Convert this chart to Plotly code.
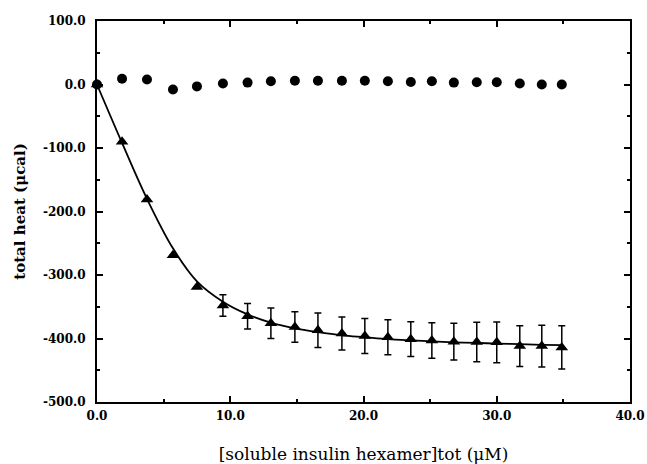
import plotly.graph_objects as go

# concentration of soluble insulin hexamer (µM)
conc = [0, 1.88, 3.75, 5.7, 7.5, 9.45, 11.3, 13.05, 14.85, 16.58, 18.38,
        20.1, 21.83, 23.55, 25.13, 26.78, 28.5, 30.0, 31.73, 33.38, 34.88]
# control series (circles), total heat µcal
heat_control = [0, 9, 8, -8, -3, 1.5, 3, 5, 6, 6, 6,
                6, 5, 4, 5, 3, 3.5, 3.5, 1.5, 0, 0]
# binding series (triangles)
heat_binding = [0, -90, -181, -269, -319, -348, -365, -376, -382, -387, -392,
                -396, -398, -401, -403, -405, -405.5, -406, -412, -412, -414]
heat_err = [0, 0, 0, 0, 0, 17, 20, 24, 24, 27, 26,
            27.5, 27.5, 27.5, 28, 29, 31, 32, 32, 33, 34]
# fitted curve
heat_fit = [0, -92, -180, -258, -310, -342, -362, -375, -384, -390, -395,
            -398, -401, -403, -404.5, -406, -407, -408, -409, -410, -410.5]

x_ticks = [0, 10, 20, 30, 40]
x_ticktext = ["0.0", "10.0", "20.0", "30.0", "40.0"]
y_ticks = [100, 0, -100, -200, -300, -400, -500]
y_ticktext = ["100.0", "0.0", "-100.0", "-200.0", "-300.0", "-400.0", "-500.0"]

fig = go.Figure()
fig.add_trace(go.Scatter(x=conc, y=heat_fit, mode="lines",
                         line=dict(color="black", width=1.8, shape="spline"),
                         hoverinfo="skip"))
fig.add_trace(go.Scatter(x=conc, y=heat_binding, mode="markers",
                         marker=dict(symbol="triangle-up", size=11, color="black"),
                         error_y=dict(type="data", array=heat_err, visible=True,
                                      color="black", thickness=1.5, width=3.5),
                         cliponaxis=False))
fig.add_trace(go.Scatter(x=conc, y=heat_control, mode="markers",
                         marker=dict(symbol="circle", size=10, color="black"),
                         cliponaxis=False))

tickfont = dict(family="DejaVu Serif", size=12, color="black", weight="bold")
axis_common = dict(showgrid=False, zeroline=False, showline=True, linecolor="black",
                   linewidth=2, mirror="ticks", ticks="inside", ticklen=6,
                   tickwidth=1.5, tickcolor="black", tickfont=tickfont,
                   automargin=False)

fig.update_xaxes(range=[0, 40], tickmode="array", tickvals=x_ticks, ticktext=x_ticktext,
                 minor=dict(tickmode="linear", tick0=0, dtick=5, ticks="inside",
                            ticklen=3, tickcolor="black"),
                 ticklabelstandoff=2,
                 title=dict(text="[soluble insulin hexamer]tot (μM)",
                            font=dict(family="DejaVu Serif", size=17, color="black"),
                            standoff=26),
                 **axis_common)
fig.update_yaxes(range=[-500, 100], tickmode="array", tickvals=y_ticks, ticktext=y_ticktext,
                 minor=dict(tickmode="linear", tick0=0, dtick=50, ticks="inside",
                            ticklen=3, tickcolor="black"),
                 ticklabelstandoff=7,
                 title=dict(text="total heat (μcal)",
                            font=dict(family="DejaVu Serif", size=15, color="black",
                                      weight="bold"),
                            standoff=14),
                 **axis_common)

fig.update_layout(width=647, height=464, showlegend=False,
                  plot_bgcolor="white", paper_bgcolor="white",
                  margin=dict(l=97, r=17, t=21, b=62))
fig.write_html("out.html")
